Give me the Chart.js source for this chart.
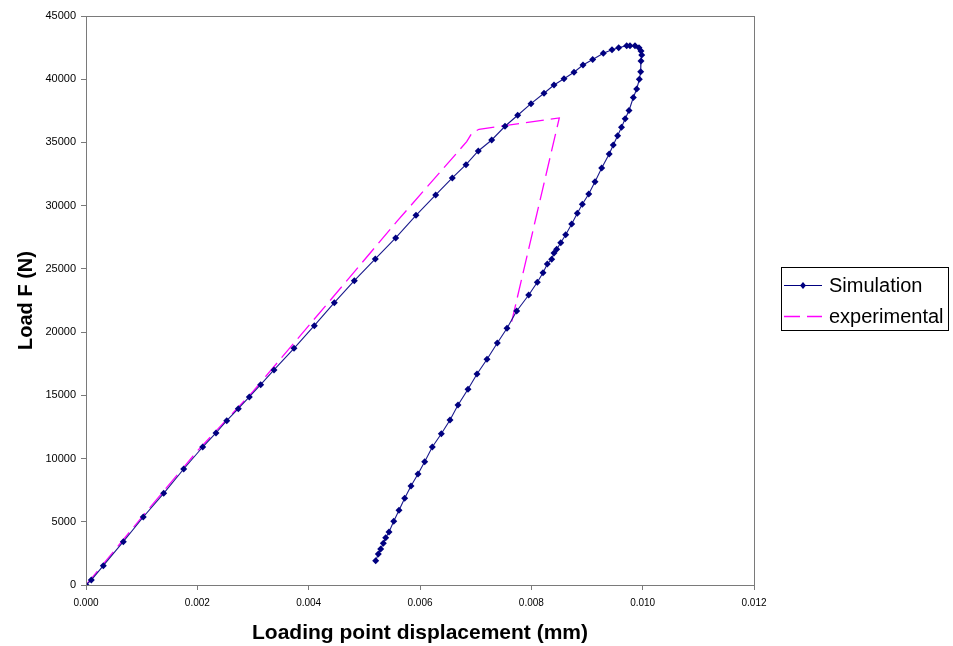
<!DOCTYPE html>
<html>
<head>
<meta charset="utf-8">
<script src="https://cdn.jsdelivr.net/npm/chart.js@4.4.1/dist/chart.umd.min.js"></script>
<style>
  html, body { margin: 0; padding: 0; background: #ffffff; }
  #wrap { width: 953px; height: 646px; position: relative; }
</style>
</head>
<body>
<div id="wrap"><canvas id="c" width="953" height="646"></canvas></div>
<script>
// ---- Data ----
const simDisp = [
  0, 0.0000952, 0.000311, 0.000670, 0.001029, 0.001396, 0.001755, 0.002096, 0.002335, 0.002528,
  0.002736, 0.002934, 0.003138, 0.003377, 0.003737, 0.004101, 0.004461, 0.004820, 0.005197, 0.005563,
  0.005928, 0.006282, 0.006580, 0.006826, 0.007047, 0.007288, 0.007527, 0.007755, 0.007994, 0.008228,
  0.008407, 0.008587, 0.008766, 0.008928, 0.009102, 0.009293, 0.009449, 0.009569, 0.009713, 0.009772,
  0.009862, 0.009934, 0.009970, 0.009983, 0.009970, 0.009965, 0.009940, 0.009893, 0.009832, 0.009755,
  0.009686, 0.009620, 0.009550, 0.009472, 0.009399, 0.009264, 0.009144, 0.009031, 0.008916, 0.008826,
  0.008725, 0.008617, 0.008528, 0.008456, 0.008407, 0.008366, 0.008287, 0.008210, 0.008107, 0.007953,
  0.007737, 0.007563, 0.007389, 0.007204, 0.007024, 0.006862, 0.006683, 0.006539, 0.006383, 0.006221,
  0.006084, 0.005964, 0.005838, 0.005725, 0.005623, 0.005528, 0.005443, 0.005384, 0.005341, 0.005294,
  0.005251, 0.005204
];
const simLoad = [
  0, 395, 1526, 3425, 5378, 7253, 9174, 10914, 12022, 12995,
  13944, 14869, 15842, 17004, 18721, 20508, 22327, 24067, 25783, 27444,
  29240, 30845, 32190, 33242, 34325, 35195, 36279, 37149, 38066, 38889,
  39545, 40044, 40550, 41127, 41562, 42052, 42337, 42495, 42654, 42654,
  42654, 42495, 42234, 41918, 41443, 40597, 39996, 39229, 38556, 37528,
  36872, 36207, 35527, 34800, 34088, 32981, 31897, 30924, 30110, 29398,
  28551, 27705, 27072, 26550, 26258, 25759, 25388, 24700, 23940, 22936,
  21671, 20302, 19140, 17851, 16688, 15478, 14236, 13050, 11966, 10914,
  9752, 8779, 7830, 6857, 5908, 5038, 4192, 3741, 3298, 2847,
  2452, 1922
];
const expDisp = [0, 0.0010, 0.0020, 0.0030, 0.0033, 0.004563, 0.005581, 0.006839, 0.006934, 0.007060, 0.008502, 0.007647];
const expLoad = [0, 5350, 10600, 15300, 16870, 23427, 28733, 35061, 35749, 36041, 36935, 20824];
const seriesNames = ["Simulation", "experimental"];
const xTicksMax = 0.012, xStep = 0.002;
const yTicksMax = 45000, yStep = 5000;
const xTitle = "Loading point displacement (mm)";
const yTitle = "Load F (N)";

const simPts = simDisp.map((x, i) => ({ x: x, y: simLoad[i] }));
const expPts = expDisp.map((x, i) => ({ x: x, y: expLoad[i] }));

const AXIS = '#7a7a7a';
const FONT = '"Liberation Sans", Arial, sans-serif';

const frameAndLegend = {
  id: 'frameAndLegend',
  afterDraw(chart) {
    const { ctx, chartArea: a } = chart;
    ctx.save();
    ctx.strokeStyle = AXIS;
    ctx.lineWidth = 1;
    ctx.strokeRect(Math.round(a.left) + 0.5, Math.round(a.top) + 0.5,
                   Math.round(a.right - a.left), Math.round(a.bottom - a.top));
    // legend box
    const bx = 781, by = 267, bw = 167, bh = 63;
    ctx.strokeStyle = '#000000';
    ctx.strokeRect(bx + 0.5, by + 0.5, bw, bh);
    ctx.font = '20px ' + FONT;
    ctx.fillStyle = '#000000';
    ctx.textBaseline = 'middle';
    ctx.textAlign = 'left';
    // row 1: Simulation
    const y1 = 285, y2 = 316;
    ctx.strokeStyle = '#000080';
    ctx.lineWidth = 1;
    ctx.beginPath(); ctx.moveTo(784, y1 + 0.5); ctx.lineTo(822, y1 + 0.5); ctx.stroke();
    ctx.fillStyle = '#000080';
    ctx.beginPath();
    ctx.moveTo(803, y1 - 3); ctx.lineTo(806, y1 + 0.5); ctx.lineTo(803, y1 + 4); ctx.lineTo(800, y1 + 0.5);
    ctx.closePath(); ctx.fill();
    ctx.fillStyle = '#000000';
    ctx.fillText(seriesNames[0], 829, y1 + 1);
    // row 2: experimental
    ctx.strokeStyle = '#ff00ff';
    ctx.lineWidth = 1.3;
    ctx.setLineDash([16, 7]);
    ctx.beginPath(); ctx.moveTo(784, y2 + 0.5); ctx.lineTo(822, y2 + 0.5); ctx.stroke();
    ctx.setLineDash([]);
    ctx.fillStyle = '#000000';
    ctx.fillText(seriesNames[1], 829, y2 + 1);
    ctx.restore();
  }
};

new Chart(document.getElementById('c'), {
  type: 'scatter',
  data: {
    datasets: [
      {
        label: seriesNames[0],
        data: simPts,
        showLine: true,
        borderColor: '#1a1a8c',
        backgroundColor: '#000080',
        borderWidth: 1.1,
        pointStyle: 'rectRot',
        pointRadius: 3.5,
        pointBorderWidth: 0,
        pointBackgroundColor: '#000080',
        tension: 0
      },
      {
        label: seriesNames[1],
        data: expPts,
        showLine: true,
        borderColor: '#ff00ff',
        backgroundColor: '#ff00ff',
        borderWidth: 1.3,
        borderDash: [18, 7],
        pointRadius: 0,
        tension: 0
      }
    ]
  },
  options: {
    responsive: false,
    animation: false,
    devicePixelRatio: 1,
    layout: { padding: { left: 0, right: 199, top: 16, bottom: 0 } },
    plugins: { legend: { display: false }, tooltip: { enabled: false } },
    scales: {
      x: {
        type: 'linear',
        min: 0, max: xTicksMax,
        afterFit(s) { s.height = 61; },
        ticks: {
          stepSize: xStep,
          color: '#000000',
          font: { family: FONT, size: 10 },
          padding: 7,
          maxRotation: 0,
          callback: v => Number(v).toFixed(3)
        },
        grid: { display: true, drawOnChartArea: false, drawTicks: true, tickLength: 5, color: AXIS },
        border: { display: true, color: AXIS },
        title: {
          display: true, text: xTitle, color: '#000000',
          font: { family: FONT, size: 21, weight: 'bold' },
          padding: { top: 4, bottom: 0 }
        }
      },
      y: {
        type: 'linear',
        min: 0, max: yTicksMax,
        afterFit(s) { s.width = 86; },
        ticks: {
          stepSize: yStep,
          color: '#000000',
          font: { family: FONT, size: 11 },
          padding: 5,
          callback: v => String(v)
        },
        grid: { display: true, drawOnChartArea: false, drawTicks: true, tickLength: 5, color: AXIS },
        border: { display: true, color: AXIS },
        title: {
          display: true, text: yTitle, color: '#000000',
          font: { family: FONT, size: 20, weight: 'bold' },
          padding: { top: 14, bottom: 4 }
        }
      }
    }
  },
  plugins: [frameAndLegend]
});
</script>
</body>
</html>
